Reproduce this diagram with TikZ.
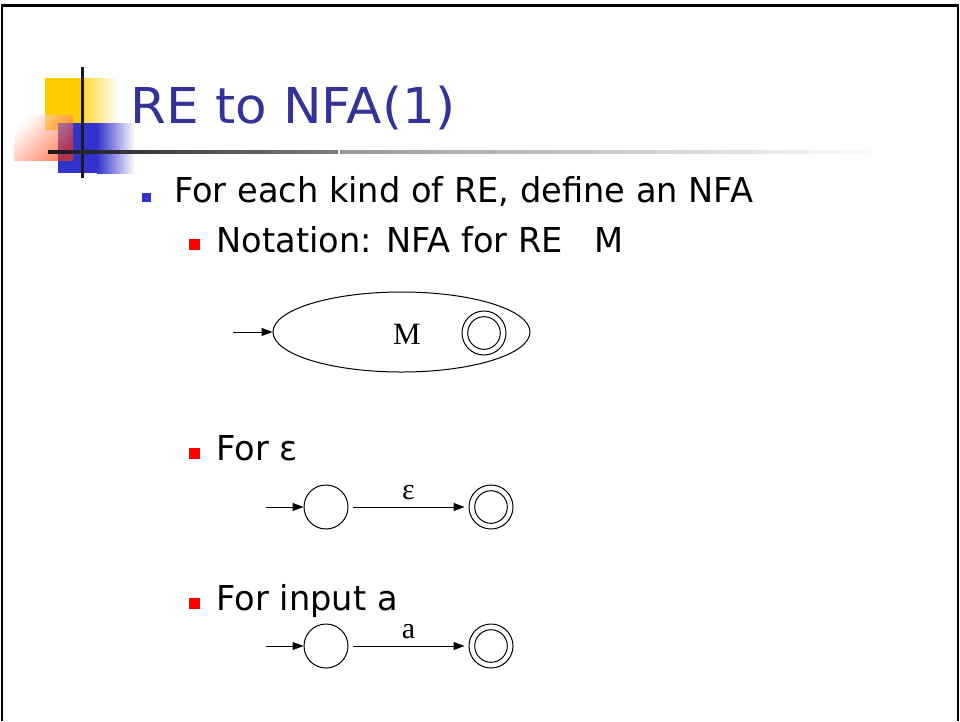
\documentclass[tikz,border=0pt]{standalone}
\usepackage{fontspec}
\setmainfont{DejaVu Sans}
\newfontfamily\bodyfont[FakeStretch=0.98]{DejaVu Sans}
\newfontfamily\titlefont[FakeStretch=1.045]{DejaVu Sans}
\newfontfamily\serfont{Liberation Serif}
\usetikzlibrary{arrows.meta,shapes.geometric}
\definecolor{titleblue}{RGB}{51,51,153}
\definecolor{bulletblue}{RGB}{51,51,204}
\definecolor{logoyellow}{RGB}{255,204,0}
\definecolor{logored}{RGB}{255,51,0}
\definecolor{logoblue}{RGB}{51,51,204}
\tikzset{
  txt/.style={anchor=base west, inner sep=0pt, font=\bodyfont\fontsize{34.3}{40}\selectfont},
  state/.style={draw, circle, line width=1pt, minimum size=44pt, inner sep=0pt},
  accept/.style={draw, circle, line width=1pt, minimum size=44pt, inner sep=0pt},
  trans/.style={line width=1pt, -{Triangle[length=11pt,width=8pt]}},
  lbl/.style={font=\serfont\fontsize{30}{34}\selectfont},
}
\begin{document}
\begin{tikzpicture}[x=1pt,y=-1pt]
\useasboundingbox (0,0) rectangle (960,721);
\fill[white] (0,0) rectangle (960,721);
% frame
\draw[line width=2.5pt] (2,721) -- (2,5.5) -- (958,5.5) -- (958,721);
% logo
\fill[logoyellow] (45,78) rectangle (83,130);
\shade[left color=logoyellow!80, right color=white] (83,78) rectangle (118,130);
\fill[logoblue] (58,123) rectangle (97,173);
\shade[left color=logoblue, right color=white] (97,123) rectangle (135,173);
\shade[left color=white, right color=logored, shading angle=45, opacity=0.6]
       (14,115) rectangle (73,160);
\draw[line width=3pt, black!90] (82,67) -- (82,178);
\shade[left color=black!90, right color=black!50] (48,150.5) rectangle (338,153.5);
\shade[left color=black!40, right color=white] (340,150.5) rectangle (890,153.5);
% title
\node[anchor=base west, inner sep=0pt, text=titleblue, font=\titlefont\fontsize{49.4}{56}\selectfont] (title) at (130,123) {RE to NFA(1)};
% bullets
\fill[bulletblue] (142,193) rectangle (151,202);
\node[txt] (l1) at (174,202) {For each kind of RE, define an NFA};
\fill[red] (189,238.5) rectangle (200,249.5);
\node[txt] (l2) at (216.5,252) {Notation: NFA for RE\ \ \ M};
\fill[red] (189,448) rectangle (200,459);
\node[txt] (l3) at (216.5,460) {For ε};
\fill[red] (189,598) rectangle (200,609);
\node[txt] (l4) at (216.5,610) {For input a};
% diagram 1
\node[draw, ellipse, line width=1pt, minimum width=257pt, minimum height=80pt, inner sep=0pt] (mach) at (401.5,332) {};
\node[lbl, font=\serfont\fontsize{31}{34}\selectfont, inner sep=0pt] (mlabel) at (407,334) {M};
\node[accept] (macc) at (484,333) {};
\draw[line width=1pt] (macc.center) circle (16.3pt);
\coordinate (min) at (233,332);
\draw[trans] (min) -- (mach.west);
% diagram 2
\node[state] (s1) at (326,507) {};
\node[accept] (f1) at (491,507) {};
\draw[line width=1pt] (f1.center) circle (16.3pt);
\coordinate (in1) at (266,507);
\draw[trans] (in1) -- (s1);
\draw[trans, shorten <=4pt, shorten >=4pt] (s1) -- node[lbl, anchor=south, inner sep=7pt] (e1) {ε} (f1);
% diagram 3
\node[state] (s2) at (326,646) {};
\node[accept] (f2) at (491,646) {};
\draw[line width=1pt] (f2.center) circle (16.3pt);
\coordinate (in2) at (266,646);
\draw[trans] (in2) -- (s2);
\draw[trans, shorten <=4pt, shorten >=4pt] (s2) -- node[lbl, anchor=south, inner sep=7pt] (e2) {a} (f2);
\end{tikzpicture}
\end{document}
